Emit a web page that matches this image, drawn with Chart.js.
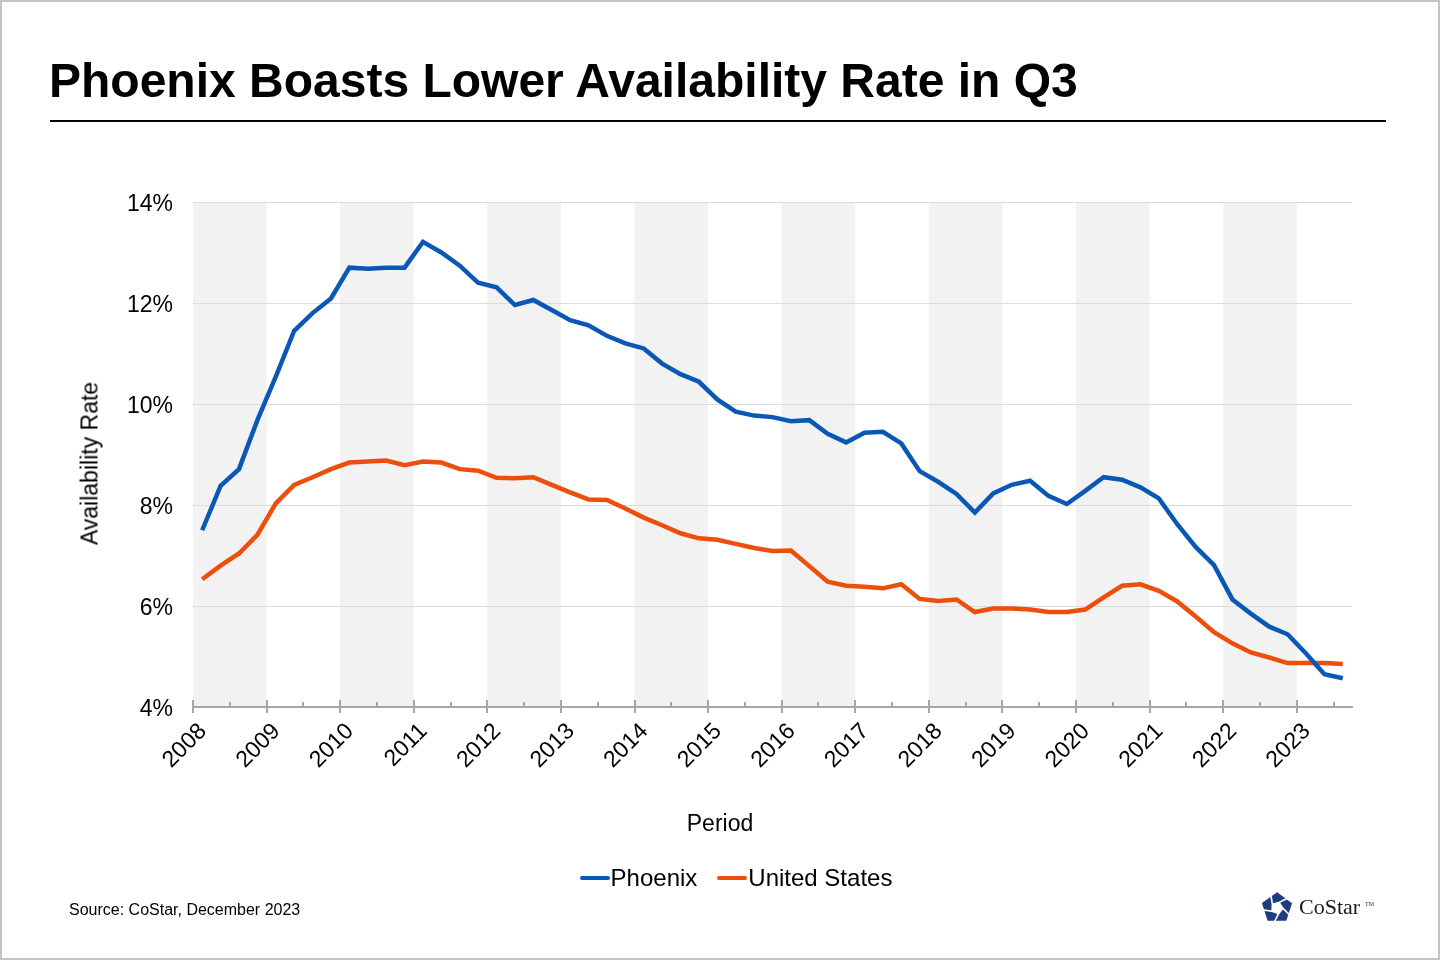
<!DOCTYPE html>
<html>
<head>
<meta charset="utf-8">
<title>Phoenix Boasts Lower Availability Rate in Q3</title>
<script src="https://cdn.jsdelivr.net/npm/chart.js@4.4.1/dist/chart.umd.min.js"></script>
<style>
  html, body { margin: 0; padding: 0; background: #fff; }
  #page { position: relative; width: 1440px; height: 960px; overflow: hidden;
          font-family: "Liberation Sans", Arial, sans-serif; color: #000; }
  #frame { position: absolute; left: 0; top: 0; width: 1440px; height: 960px;
           box-sizing: border-box; border: 2px solid #c4c4c4; pointer-events: none; }
  #chart { position: absolute; left: 0; top: 0; }
  #title { position: absolute; left: 49px; top: 57px; font-size: 48px; line-height: 48px;
           font-weight: bold; white-space: nowrap; }
  #rule { position: absolute; left: 50px; top: 120px; width: 1336px; height: 2px; background: #000; }
  .axis-title { position: absolute; font-size: 23px; line-height: 23px; text-align: center; white-space: nowrap; }
  #xtitle { left: 620px; width: 200px; top: 812px; }
  #ytitle { left: -10px; width: 200px; top: 452px; transform: rotate(-90deg); }
  #legend { position: absolute; left: 0; width: 1472px; top: 866px; text-align: center;
            font-size: 24px; line-height: 24px; white-space: nowrap; }
  #legend span.item { display: inline-block; margin: 0 10px; }
  #legend span.swatch { display: inline-block; width: 30px; height: 4px; border-radius: 2px;
                        vertical-align: middle; margin-right: 1px; position: relative; top: -2px; }
  #source { position: absolute; left: 69px; top: 902px; font-size: 16px; line-height: 16px; }
  #logo { position: absolute; left: 1257px; top: 888px; }
  #logo .name { position: absolute; left: 42px; top: 8px; font-family: "Liberation Serif", "Times New Roman", serif;
                font-size: 22px; line-height: 22px; color: #1a1a1a; }
  #logo .tm { position: absolute; left: 108px; top: 13px; font-family: "Liberation Serif", serif;
              font-size: 6px; line-height: 6px; color: #333; }
</style>
</head>
<body>
<div id="page">
  <canvas id="chart" width="1440" height="960"></canvas>
  <div id="title">Phoenix Boasts Lower Availability Rate in Q3</div>
  <div id="rule"></div>
  <div id="xtitle" class="axis-title">Period</div>
  <div id="ytitle" class="axis-title">Availability Rate</div>
  <div id="legend"></div>
  <div id="source">Source: CoStar, December 2023</div>
  <div id="logo">
    <svg width="40" height="40" viewBox="-20 -20 40 40">
      <g id="petals" fill="#1f3c7d"></g>
    </svg>
    <span class="name">CoStar</span><span class="tm">TM</span>
  </div>
  <div id="frame"></div>
</div>
<script>
// quarterly availability rate, 2008 Q1 - 2023 Q3
var years = [2008, 2009, 2010, 2011, 2012, 2013, 2014, 2015,
             2016, 2017, 2018, 2019, 2020, 2021, 2022, 2023];
var quarters = ['Q1', 'Q2', 'Q3', 'Q4'];

var phoenix = [7.50, 8.38, 8.71, 9.68, 10.54, 11.45, 11.80, 12.09,
               12.70, 12.68, 12.70, 12.70, 13.21, 13.00, 12.74, 12.40,
               12.31, 11.96, 12.06, 11.86, 11.66, 11.56, 11.35, 11.20,
               11.10, 10.80, 10.59, 10.44, 10.09, 9.85, 9.77, 9.74,
               9.66, 9.68, 9.41, 9.24, 9.43, 9.45, 9.22, 8.67,
               8.46, 8.22, 7.85, 8.23, 8.40, 8.48, 8.18, 8.02,
               8.28, 8.55, 8.50, 8.35, 8.13, 7.62, 7.17, 6.81,
               6.13, 5.85, 5.59, 5.44, 5.06, 4.65, 4.57];

var unitedStates = [6.53, 6.80, 7.04, 7.41, 8.03, 8.40, 8.55, 8.71,
                    8.84, 8.86, 8.88, 8.79, 8.86, 8.84, 8.71, 8.68,
                    8.54, 8.53, 8.55, 8.40, 8.25, 8.11, 8.10, 7.93,
                    7.75, 7.60, 7.44, 7.34, 7.31, 7.23, 7.15, 7.09,
                    7.10, 6.79, 6.48, 6.40, 6.38, 6.35, 6.43, 6.14,
                    6.10, 6.13, 5.88, 5.95, 5.95, 5.93, 5.88, 5.88,
                    5.93, 6.17, 6.40, 6.43, 6.30, 6.09, 5.79, 5.48,
                    5.26, 5.08, 4.98, 4.87, 4.87, 4.87, 4.85];

var yTicks = [4, 6, 8, 10, 12, 14];

var periods = [];
years.forEach(function (yr) {
    quarters.forEach(function (q) { periods.push(yr + ' ' + q); });
});
periods = periods.slice(0, phoenix.length);

// each quarter is one unit on the x axis, points sit in the middle of it
function toPoints(values) {
    return values.map(function (v, i) { return { x: i + 0.5, y: v }; });
}

// grey band behind every other year + excel style tick marks
var yearBands = {
    id: 'yearBands',
    beforeDraw: function (chart) {
        var ctx = chart.ctx, area = chart.chartArea, x = chart.scales.x;
        ctx.save();
        ctx.fillStyle = '#f2f2f2';
        years.forEach(function (yr, k) {
            if (yr % 2) return;
            var x0 = x.getPixelForValue(k * 4);
            var x1 = x.getPixelForValue(Math.min(k * 4 + 4, periods.length));
            ctx.fillRect(x0, area.top, x1 - x0, area.bottom - area.top);
        });
        ctx.restore();
    },
    afterDraw: function (chart) {
        var ctx = chart.ctx, area = chart.chartArea, x = chart.scales.x;
        ctx.save();
        ctx.strokeStyle = '#a6a6a6';
        ctx.lineWidth = 2;
        for (var v = 0; v < periods.length; v += 2) {
            var px = Math.round(x.getPixelForValue(v));
            var major = v % 4 === 0;
            ctx.beginPath();
            ctx.moveTo(px, area.bottom - (major ? 7 : 5));
            ctx.lineTo(px, area.bottom + (major ? 6 : 0));
            ctx.stroke();
        }
        ctx.restore();
    }
};

var axisFont = { family: '"Liberation Sans", Arial, sans-serif', size: 23 };

var chart = new Chart(document.getElementById('chart').getContext('2d'), {
    type: 'line',
    data: {
        labels: periods,
        datasets: [
            {
                label: 'Phoenix',
                data: toPoints(phoenix),
                borderColor: '#0a58b5',
                backgroundColor: '#0a58b5',
                borderWidth: 4.5,
                pointRadius: 0,
                tension: 0,
                fill: false
            },
            {
                label: 'United States',
                data: toPoints(unitedStates),
                borderColor: '#ee4e0b',
                backgroundColor: '#ee4e0b',
                borderWidth: 4.5,
                pointRadius: 0,
                tension: 0,
                fill: false
            }
        ]
    },
    options: {
        responsive: false,
        animation: false,
        events: [],
        layout: { padding: { left: 60, right: 88, top: 202, bottom: 110 } },
        plugins: {
            legend: { display: false },
            tooltip: { enabled: false }
        },
        scales: {
            x: {
                type: 'linear',
                min: 0,
                max: periods.length,
                grid: { drawOnChartArea: false, drawTicks: false },
                border: { display: true, color: '#a6a6a6', width: 2 },
                ticks: {
                    stepSize: 4,
                    autoSkip: false,
                    minRotation: 45,
                    maxRotation: 45,
                    padding: 11,
                    labelOffset: 10,
                    color: '#000',
                    font: axisFont,
                    callback: function (v) {
                        return v % 4 === 0 ? String(years[v / 4]) : '';
                    }
                },
                afterFit: function (s) { s.height = 143; }
            },
            y: {
                min: yTicks[0],
                max: yTicks[yTicks.length - 1],
                grid: { color: '#dcdcdc', lineWidth: 1, drawTicks: false },
                border: { display: false },
                afterBuildTicks: function (s) {
                    s.ticks = yTicks.map(function (v) { return { value: v }; });
                },
                ticks: {
                    padding: 20,
                    labelOffset: 3,
                    color: '#000',
                    font: axisFont,
                    callback: function (v) { return v + '%'; }
                },
                afterFit: function (s) { s.width = 133; }
            }
        }
    },
    plugins: [yearBands]
});

// html legend built from the datasets
var legend = document.getElementById('legend');
chart.data.datasets.forEach(function (ds) {
    var item = document.createElement('span');
    item.className = 'item';
    var sw = document.createElement('span');
    sw.className = 'swatch';
    sw.style.background = ds.borderColor;
    item.appendChild(sw);
    item.appendChild(document.createTextNode(ds.label));
    legend.appendChild(item);
});

// CoStar mark: pentagon cut into five pinwheel pieces
var petals = document.getElementById('petals');
function pt(r, deg) {
    var a = deg * Math.PI / 180;
    return [r * Math.cos(a), r * Math.sin(a)];
}
function lerp(p, q, t) { return [p[0] + (q[0] - p[0]) * t, p[1] + (q[1] - p[1]) * t]; }
var outer = [], inner = [];
for (var k = 0; k < 5; k++) {
    outer.push(pt(17, -90 + 72 * k));
    inner.push(pt(6, -90 + 72 * k + 20));
}
for (k = 0; k < 5; k++) {
    var prev = (k + 4) % 5, next = (k + 1) % 5;
    var poly = [outer[k], lerp(outer[k], outer[next], 0.62), inner[k], inner[prev],
                lerp(outer[prev], outer[k], 0.62)];
    var cx = 0, cy = 0;
    poly.forEach(function (p) { cx += p[0] / poly.length; cy += p[1] / poly.length; });
    var pts = poly.map(function (p) {
        var q = lerp([cx, cy], p, 0.84);
        return q[0].toFixed(2) + ',' + q[1].toFixed(2);
    });
    var el = document.createElementNS('http://www.w3.org/2000/svg', 'polygon');
    el.setAttribute('points', pts.join(' '));
    petals.appendChild(el);
}
</script>
</body>
</html>
